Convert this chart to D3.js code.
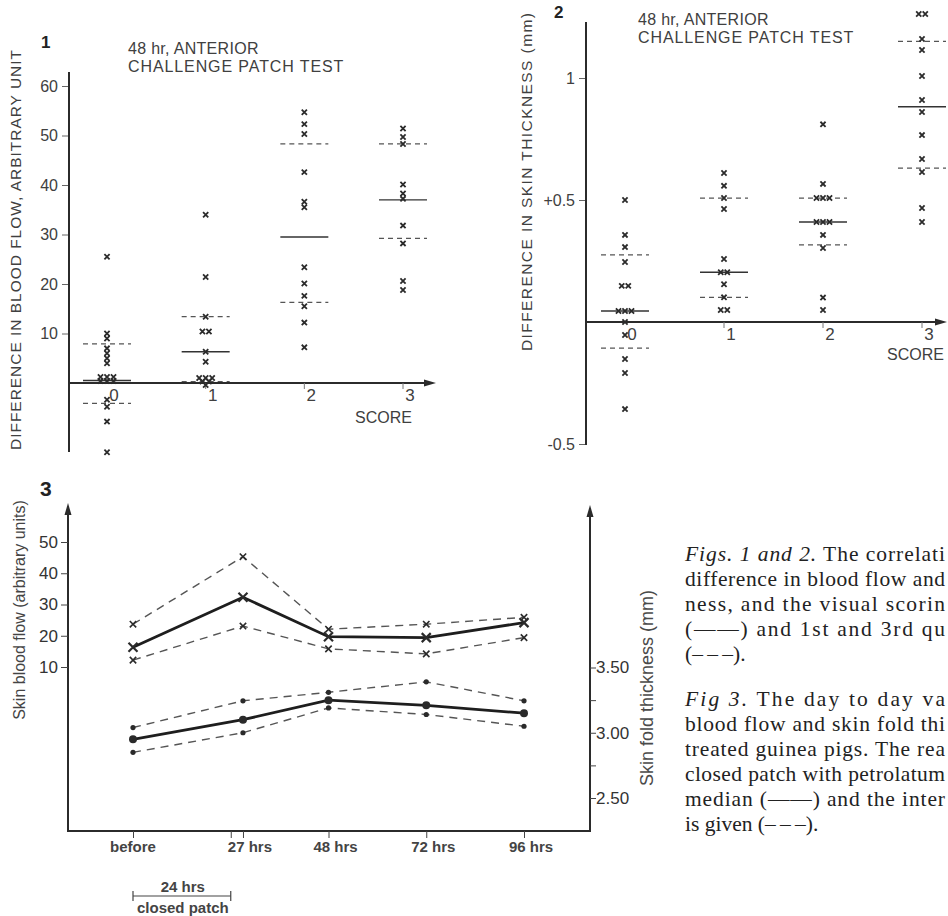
<!DOCTYPE html>
<html>
<head>
<meta charset="utf-8">
<script src="https://cdn.jsdelivr.net/npm/d3@7"></script>
<style>
  html, body { margin: 0; padding: 0; background: #fff; overflow: hidden; }
  svg { display: block; font-family: "Liberation Sans", Arial, sans-serif; }
</style>
</head>
<body>
<div id="container"></div>
<script>
/* DATA: figs 1 and 2 (score categories) */
const scores = [0, 1, 2, 3];

// fig 1: difference in blood flow, one array per score
const flowPoints = [
  [25.5, 10, 9, 7, 6, 5, 4, 1.2, 1.2, 1.2, 0.4, 0.4, 0.4, -3.4, -4.8, -7.8, -14],
  [34, 21.4, 13.4, 10.4, 10.4, 6.3, 4.3, 1, 1, 1, 0.3, 0.3, -0.4],
  [54.7, 52.3, 50.3, 42.6, 36.6, 35.5, 23.4, 20.1, 17.6, 15.5, 12.2, 7.2],
  [51.4, 49.7, 48.3, 40.1, 38.3, 37.2, 31.8, 28.2, 20.6, 18.8]
];
const flowMedian = [0.5, 6.3, 29.5, 37.0];
const flowQ1 = [-4.1, 0.3, 16.3, 29.2];
const flowQ3 = [7.9, 13.4, 48.3, 48.3];
const flowTicks = [10, 20, 30, 40, 50, 60];

// fig 2: difference in skin thickness (mm)
const skinPoints = [
  [0.5, 0.357, 0.307, 0.246, 0.148, 0.148, 0.045, 0.045, 0.045, 0, -0.053, -0.152, -0.209, -0.357],
  [0.611, 0.558, 0.508, 0.463, 0.258, 0.204, 0.204, 0.155, 0.101, 0.049, 0.049],
  [0.81, 0.566, 0.508, 0.508, 0.508, 0.41, 0.41, 0.41, 0.357, 0.303, 0.1, 0.049],
  [1.262, 1.262, 1.16, 1.115, 1.008, 0.91, 0.861, 0.766, 0.668, 0.615, 0.467, 0.41]
];
const skinMedian = [0.045, 0.204, 0.41, 0.882];
const skinQ1 = [-0.107, 0.101, 0.316, 0.631];
const skinQ3 = [0.275, 0.508, 0.508, 1.15];
const skinTicks = [-0.5, 0.5, 1];
const skinTickLabels = ["-0.5", "+0.5", "1"];

/* DATA: fig 3 (day to day) */
const timeHours = [0, 27, 48, 72, 96];
const timeTicks = [0, 24, 27, 48, 72, 96];
const timeLabels = ["before", "27 hrs", "48 hrs", "72 hrs", "96 hrs"];
const bfMedian = [16.3, 32.3, 19.7, 19.4, 24.2];
const bfQ1 = [12.2, 23.1, 15.8, 14.2, 19.4];
const bfQ3 = [23.7, 45.3, 22.1, 23.7, 25.9];
const sfMedian = [2.95, 3.10, 3.25, 3.21, 3.15];
const sfQ1 = [2.85, 3.00, 3.19, 3.14, 3.05];
const sfQ3 = [3.04, 3.245, 3.31, 3.39, 3.245];
const bfTicks = [10, 20, 30, 40, 50];
const sfTicks = [2.5, 2.75, 3, 3.25, 3.5];
const sfTickLabels = ["2.50", "", "3.00", "", "3.50"];

// caption, as far as it shows in the picture (full = set to full width)
const captionLines = [
  { parts: [["Figs. 1 and 2.", true], [" The correlati", false]], full: true },
  { parts: [["difference in blood flow and", false]], full: true },
  { parts: [["ness, and the visual scorin", false]], full: true },
  { parts: [["(——) and 1st and 3rd qu", false]], full: true },
  { parts: [["(–\u2009–\u2009–).", false]], full: false },
  null,
  { parts: [["Fig 3.", true], [" The day to day va", false]], full: true },
  { parts: [["blood flow and skin fold thi", false]], full: true },
  { parts: [["treated guinea pigs. The rea", false]], full: true },
  { parts: [["closed patch with petrolatum", false]], full: true },
  { parts: [["median (——) and the inter", false]], full: true },
  { parts: [["is given (–\u2009–\u2009–).", false]], full: false }
];

/* SVG */
const W = 948, H = 916;
const svg = d3.select("#container").append("svg")
  .attr("width", W).attr("height", H)
  .style("background", "#fff");

const ink = "#2b2b2b";
const txt = "#404040";

function arrowUp(x, y) {
  svg.append("path").attr("d", `M${x},${y} L${x - 3.5},${y + 12} L${x + 3.5},${y + 12} Z`).attr("fill", ink);
}
function arrowRight(x, y) {
  svg.append("path").attr("d", `M${x},${y} L${x - 12},${y - 3.5} L${x - 12},${y + 3.5} Z`).attr("fill", ink);
}
function cross(g, x, y, s, w) {
  g.append("path")
    .attr("d", `M${x - s},${y - s} L${x + s},${y + s} M${x - s},${y + s} L${x + s},${y - s}`)
    .attr("stroke", ink).attr("stroke-width", w).attr("fill", "none");
}

/* scatter figure (fig 1 and fig 2) */
function scatterFig(o) {
  const g = svg.append("g");
  const x = d3.scaleLinear().domain([0, 3]).range(o.xRange);
  const y = d3.scaleLinear().domain(o.yDomain).range(o.yRange);

  // y axis ticks
  const yAxis = g.append("g")
    .attr("transform", `translate(${o.axisX},0)`)
    .call(d3.axisLeft(y).tickValues(o.ticks).tickSize(7).tickFormat((d, i) => o.tickLabels[i]));
  yAxis.select(".domain").remove();
  yAxis.selectAll("line").attr("stroke", "#666");
  yAxis.selectAll("text").attr("font-size", 16).attr("fill", txt)
    .attr("font-family", "Liberation Sans, Arial, sans-serif").attr("dx", -1);

  // axis lines
  g.append("line").attr("x1", o.axisX).attr("x2", o.axisX)
    .attr("y1", o.axisTop).attr("y2", o.axisBottom).attr("stroke", ink).attr("stroke-width", 2);
  g.append("line").attr("x1", o.axisX).attr("x2", o.axisEnd - 4)
    .attr("y1", y(0)).attr("y2", y(0)).attr("stroke", ink).attr("stroke-width", 2);
  arrowRight(o.axisEnd, y(0));

  // category ticks and labels
  g.selectAll("line.ct").data(scores.slice(1)).join("line").attr("class", "ct")
    .attr("x1", d => x(d)).attr("x2", d => x(d))
    .attr("y1", y(0)).attr("y2", y(0) + 6).attr("stroke", "#777").attr("stroke-width", 1);
  g.selectAll("text.cat").data(scores).join("text").attr("class", "cat")
    .attr("x", d => x(d) + 7).attr("y", y(0) + 18)
    .attr("text-anchor", "middle").attr("font-size", 17).attr("fill", txt)
    .text(d => d);
  g.append("text").attr("x", o.scoreX).attr("y", y(0) + o.scoreDy)
    .attr("font-size", 16).attr("fill", txt).text("SCORE");

  // median and quartile lines
  const half = 24;
  scores.forEach((s, i) => {
    g.append("line").attr("x1", x(s) - half).attr("x2", x(s) + half)
      .attr("y1", y(o.median[i])).attr("y2", y(o.median[i]))
      .attr("stroke", "#333").attr("stroke-width", 1.4);
    [o.q1[i], o.q3[i]].forEach(q => {
      g.append("line").attr("x1", x(s) - half).attr("x2", x(s) + half)
        .attr("y1", y(q)).attr("y2", y(q))
        .attr("stroke", "#555").attr("stroke-width", 1.2).attr("stroke-dasharray", "5,4");
    });
  });

  // points: equal values are set side by side
  o.points.forEach((vals, i) => {
    const groups = d3.group(vals, v => v);
    groups.forEach((arr, v) => {
      arr.forEach((_, k) => {
        const dx = (k - (arr.length - 1) / 2) * 6.5;
        cross(g, x(scores[i]) + dx, y(v), 2.6, 1.8);
      });
    });
  });

  // titles
  g.append("text").attr("x", o.titleX).attr("y", o.titleY)
    .attr("font-size", 16).attr("fill", txt).attr("letter-spacing", 0.3).text("48 hr, ANTERIOR");
  g.append("text").attr("x", o.titleX).attr("y", o.titleY + 18)
    .attr("font-size", 16).attr("fill", txt).attr("letter-spacing", 0.9).text("CHALLENGE PATCH TEST");
  g.append("text").attr("x", o.numX).attr("y", o.numY)
    .attr("font-size", 17).attr("font-weight", "bold").attr("fill", "#222").text(o.num);
  g.append("text")
    .attr("transform", `translate(${o.labelX},${o.labelY}) rotate(-90)`)
    .attr("text-anchor", "middle").attr("font-size", 15.5).attr("fill", txt)
    .attr("textLength", o.labelLen).attr("lengthAdjust", "spacing")
    .text(o.label);
}

scatterFig({
  num: "1", numX: 41, numY: 48,
  xRange: [107, 403], yDomain: [0, 60], yRange: [383, 86],
  axisX: 69, axisTop: 72, axisBottom: 452, axisEnd: 436,
  ticks: flowTicks, tickLabels: flowTicks.map(String),
  points: flowPoints, median: flowMedian, q1: flowQ1, q3: flowQ3,
  scoreX: 355, scoreDy: 40,
  titleX: 128, titleY: 54,
  label: "DIFFERENCE IN BLOOD FLOW, ARBITRARY UNIT", labelX: 21, labelY: 250, labelLen: 400
});

scatterFig({
  num: "2", numX: 554, numY: 18,
  xRange: [625, 922], yDomain: [0, 1], yRange: [322, 78],
  axisX: 586, axisTop: 22, axisBottom: 445, axisEnd: 947,
  ticks: skinTicks, tickLabels: skinTickLabels,
  points: skinPoints, median: skinMedian, q1: skinQ1, q3: skinQ3,
  scoreX: 887, scoreDy: 38,
  titleX: 638, titleY: 25,
  label: "DIFFERENCE IN SKIN THICKNESS (mm)", labelX: 532, labelY: 182, labelLen: 338
});

/* fig 3 */
const g3 = svg.append("g");
const xT = d3.scaleLinear().domain([0, 96]).range([133, 524]);
const yBF = d3.scaleLinear().domain([10, 50]).range([667, 542]);
const ySF = d3.scaleLinear().domain([2.5, 3.5]).range([798, 667.5]);
const f3 = { left: 68, right: 590, bottom: 831, top: 503 };

g3.append("line").attr("x1", f3.left).attr("x2", f3.left).attr("y1", f3.bottom).attr("y2", f3.top + 6)
  .attr("stroke", ink).attr("stroke-width", 2);
g3.append("line").attr("x1", f3.right).attr("x2", f3.right).attr("y1", f3.bottom).attr("y2", f3.top + 8)
  .attr("stroke", ink).attr("stroke-width", 2);
g3.append("line").attr("x1", f3.left - 1).attr("x2", f3.right + 1).attr("y1", f3.bottom).attr("y2", f3.bottom)
  .attr("stroke", ink).attr("stroke-width", 2);
arrowUp(f3.left, f3.top);
arrowUp(f3.right, f3.top + 2);

const axL = g3.append("g").attr("transform", `translate(${f3.left},0)`)
  .call(d3.axisLeft(yBF).tickValues(bfTicks).tickSize(7));
axL.select(".domain").remove();
axL.selectAll("line").attr("stroke", "#444");
axL.selectAll("text").attr("font-size", 17).attr("fill", "#333")
  .attr("font-family", "Liberation Sans, Arial, sans-serif");

const axR = g3.append("g").attr("transform", `translate(${f3.right},0)`)
  .call(d3.axisRight(ySF).tickValues(sfTicks).tickSize(6).tickFormat((d, i) => sfTickLabels[i]));
axR.select(".domain").remove();
axR.selectAll("line").attr("stroke", "#444");
axR.selectAll("text").attr("font-size", 17).attr("fill", "#333").attr("dx", -3)
  .attr("font-family", "Liberation Sans, Arial, sans-serif");

const axB = g3.append("g").attr("transform", `translate(0,${f3.bottom})`)
  .call(d3.axisBottom(xT).tickValues(timeTicks).tickSize(7).tickFormat(""));
axB.select(".domain").remove();
axB.selectAll("line").attr("stroke", "#444");

g3.selectAll("text.tl").data(timeHours).join("text").attr("class", "tl")
  .attr("x", (d, i) => xT(d) + (i === 0 ? 0 : 7)).attr("y", 852)
  .attr("text-anchor", "middle").attr("font-size", 15).attr("font-weight", "bold").attr("fill", "#444")
  .text((d, i) => timeLabels[i]);

// 24 hrs closed patch bracket
g3.append("line").attr("x1", xT(0)).attr("x2", xT(24)).attr("y1", 896).attr("y2", 896)
  .attr("stroke", "#444").attr("stroke-width", 1.2);
[0, 24].forEach(h => g3.append("line").attr("x1", xT(h)).attr("x2", xT(h))
  .attr("y1", 891).attr("y2", 901).attr("stroke", "#444").attr("stroke-width", 1.2));
g3.append("text").attr("x", (xT(0) + xT(24)) / 2 + 1).attr("y", 892).attr("text-anchor", "middle")
  .attr("font-size", 15).attr("font-weight", "bold").attr("fill", "#444").text("24 hrs");
g3.append("text").attr("x", (xT(0) + xT(24)) / 2 + 1).attr("y", 913).attr("text-anchor", "middle")
  .attr("font-size", 15).attr("font-weight", "bold").attr("fill", "#444").text("closed patch");

g3.append("text").attr("x", 40).attr("y", 496)
  .attr("font-size", 21).attr("font-weight", "bold").attr("fill", "#222").text("3");
g3.append("text").attr("transform", `translate(25,610) rotate(-90)`)
  .attr("text-anchor", "middle").attr("font-size", 16).attr("fill", "#444")
  .text("Skin blood flow  (arbitrary units)");
g3.append("text").attr("transform", `translate(653,688) rotate(-90)`)
  .attr("text-anchor", "middle").attr("font-size", 18).attr("fill", "#4a4a4a")
  .text("Skin fold thickness (mm)");

function series(vals, yScale, solid, marker) {
  const pts = timeHours.map((h, i) => [xT(h), yScale(vals[i])]);
  g3.append("path").attr("d", d3.line()(pts)).attr("fill", "none")
    .attr("stroke", solid ? "#1e1e1e" : "#555")
    .attr("stroke-width", solid ? 2.8 : 1.4)
    .attr("stroke-dasharray", solid ? null : "8,6");
  pts.forEach(p => {
    if (marker === "x") cross(g3, p[0], p[1], solid ? 4.5 : 3.2, solid ? 2.2 : 1.6);
    else g3.append("circle").attr("cx", p[0]).attr("cy", p[1]).attr("r", solid ? 4 : 2.6).attr("fill", "#2a2a2a");
  });
}
series(bfQ3, yBF, false, "x");
series(bfQ1, yBF, false, "x");
series(bfMedian, yBF, true, "x");
series(sfQ3, ySF, false, "o");
series(sfQ1, ySF, false, "o");
series(sfMedian, ySF, true, "o");

/* caption */
const cap = svg.append("g").attr("font-family", "Liberation Serif, Times New Roman, serif")
  .attr("font-size", 21.5).attr("fill", "#222");
let cy = 561;
captionLines.forEach(line => {
  if (!line) { cy += 20; return; }
  const t = cap.append("text").attr("x", 685).attr("y", cy);
  if (line.full) t.attr("textLength", 260).attr("lengthAdjust", "spacing");
  line.parts.forEach(([s, it]) => t.append("tspan").attr("font-style", it ? "italic" : "normal").text(s));
  cy += 25;
});
</script>
</body>
</html>
